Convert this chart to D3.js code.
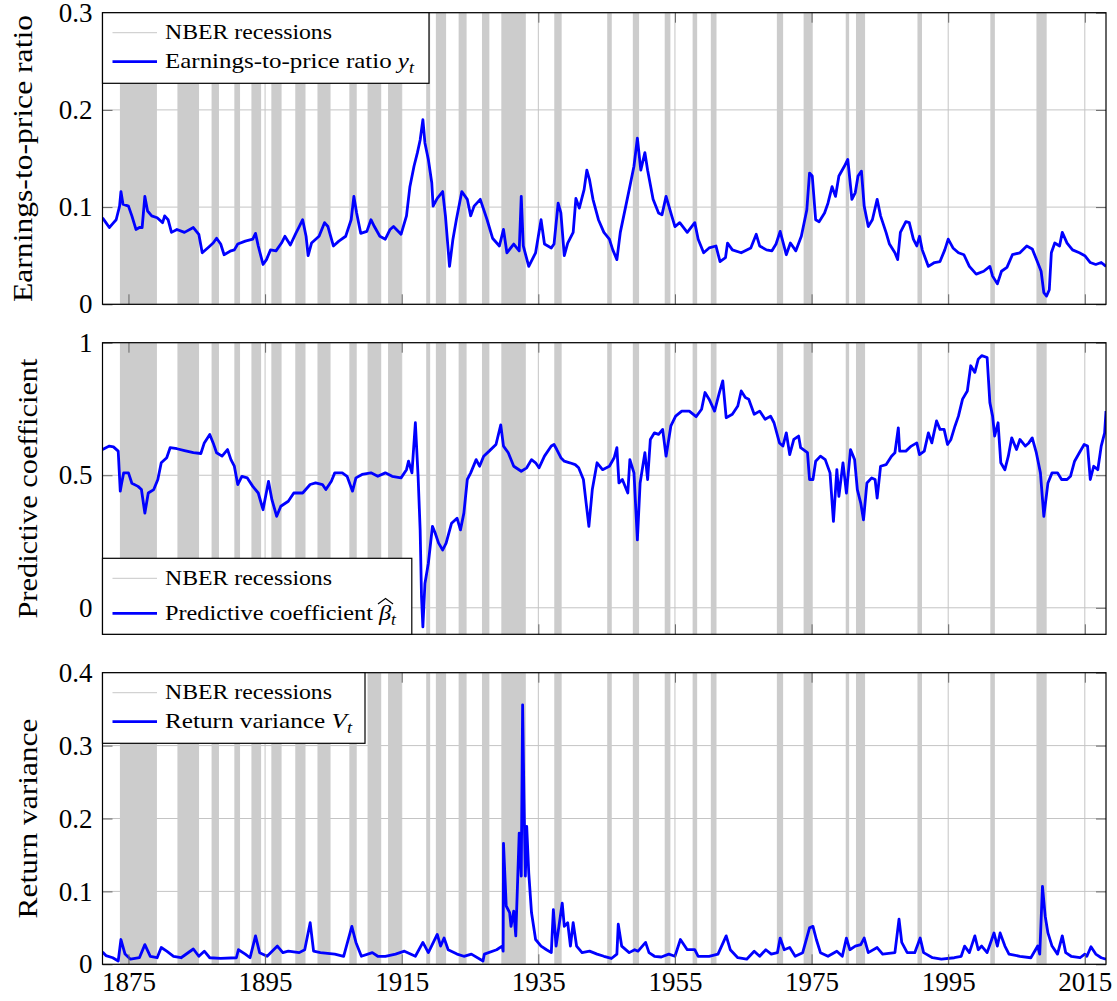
<!DOCTYPE html>
<html>
<head>
<meta charset="utf-8">
<script src="https://cdn.jsdelivr.net/npm/d3@7"></script>
</head>
<body style="margin:0">
<svg id="chart" width="1117" height="1001"></svg>
<script>
// NBER recession dates (peak, trough)
const recessionStart = ['1873-10','1882-03','1887-03','1890-07','1893-01','1895-12','1899-06','1902-09','1907-05','1910-01',
	'1913-01','1918-08','1920-01','1923-05','1926-10','1929-08','1937-05','1945-02','1948-11','1953-07','1957-08','1960-04',
	'1969-12','1973-11','1980-01','1981-07','1990-07','2001-03','2007-12']
const recessionEnd = ['1879-03','1885-05','1888-04','1891-05','1894-06','1897-06','1900-12','1904-08','1908-06','1912-01',
	'1914-12','1919-03','1921-07','1924-07','1927-11','1933-03','1938-06','1945-10','1949-10','1954-05','1958-04','1961-02',
	'1970-11','1975-03','1980-07','1982-11','1991-03','2001-11','2009-06']

const xDomain = [1871.2, 2018.1]
const xTicks = [1875, 1895, 1915, 1935, 1955, 1975, 1995, 2015]

// earnings-to-price ratio y_t  [year, value]
const epData = [[1871.2,0.089],[1871.7,0.084],[1872.2,0.079],[1872.7,0.083],[1873.2,0.087],[1873.7,0.101],[1873.9,0.116],
	[1874.2,0.103],[1875.0,0.101],[1875.5,0.091],[1876.1,0.077],[1876.6,0.079],[1877.0,0.079],[1877.4,0.111],[1877.8,0.096],
	[1878.4,0.091],[1879.2,0.089],[1880.0,0.084],[1880.3,0.091],[1880.8,0.087],[1881.3,0.074],[1882.1,0.077],[1883.2,0.074],
	[1884.5,0.079],[1885.3,0.072],[1885.8,0.053],[1886.6,0.058],[1887.4,0.063],[1887.9,0.068],[1888.5,0.062],[1889.0,0.051],
	[1890.0,0.055],[1890.5,0.056],[1891.0,0.062],[1892.1,0.065],[1893.2,0.067],[1893.6,0.073],[1894.0,0.060],[1894.7,0.041],
	[1895.2,0.046],[1895.8,0.056],[1896.6,0.055],[1897.4,0.063],[1897.9,0.070],[1898.7,0.061],[1899.5,0.073],[1900.0,0.080],
	[1900.5,0.087],[1901.0,0.070],[1901.3,0.050],[1901.8,0.063],[1902.9,0.070],[1903.7,0.084],[1904.2,0.080],[1905.0,0.060],
	[1905.8,0.065],[1906.8,0.070],[1907.6,0.087],[1908.0,0.111],[1908.4,0.094],[1909.0,0.073],[1909.9,0.075],[1910.5,0.087],
	[1911.0,0.080],[1911.8,0.070],[1912.6,0.067],[1913.3,0.077],[1913.8,0.080],[1914.9,0.072],[1915.7,0.091],[1916.2,0.121],
	[1916.8,0.142],[1917.3,0.156],[1917.7,0.169],[1918.1,0.190],[1918.4,0.166],[1918.9,0.149],[1919.4,0.125],[1919.6,0.101],
	[1920.2,0.109],[1921.0,0.116],[1921.4,0.091],[1922.0,0.039],[1922.5,0.067],[1923.0,0.087],[1923.8,0.116],[1924.6,0.108],
	[1925.1,0.091],[1925.6,0.101],[1926.5,0.108],[1927.5,0.087],[1928.3,0.068],[1929.3,0.060],[1929.9,0.077],[1930.4,0.053],
	[1931.4,0.062],[1932.2,0.055],[1932.5,0.111],[1932.8,0.060],[1933.6,0.039],[1934.6,0.053],[1935.4,0.087],[1935.9,0.062],
	[1936.9,0.058],[1937.3,0.062],[1937.9,0.104],[1938.3,0.094],[1938.8,0.050],[1939.3,0.063],[1940.1,0.074],[1940.5,0.109],
	[1941.0,0.099],[1941.7,0.118],[1942.1,0.138],[1942.5,0.128],[1943.0,0.108],[1943.8,0.087],[1944.6,0.074],[1945.4,0.067],
	[1945.9,0.056],[1946.5,0.046],[1947.0,0.074],[1947.8,0.101],[1948.3,0.118],[1949.0,0.142],[1949.5,0.171],[1950.0,0.138],
	[1950.6,0.156],[1951.0,0.138],[1951.8,0.108],[1952.6,0.094],[1953.1,0.092],[1953.7,0.111],[1954.4,0.094],[1955.0,0.080],
	[1955.7,0.084],[1956.8,0.074],[1957.9,0.084],[1958.4,0.067],[1959.2,0.053],[1960.0,0.058],[1961.0,0.060],[1961.6,0.044],
	[1962.4,0.048],[1962.7,0.063],[1963.4,0.056],[1964.7,0.053],[1966.1,0.058],[1966.9,0.072],[1967.4,0.060],[1968.4,0.056],
	[1969.2,0.055],[1969.8,0.062],[1970.4,0.075],[1971.3,0.051],[1971.9,0.063],[1972.7,0.055],[1973.5,0.070],[1974.3,0.097],
	[1974.7,0.135],[1975.1,0.132],[1975.6,0.087],[1976.1,0.085],[1976.9,0.094],[1977.4,0.104],[1978.0,0.121],[1978.5,0.111],
	[1979.0,0.132],[1979.8,0.142],[1980.3,0.149],[1980.9,0.108],[1981.4,0.115],[1981.8,0.132],[1982.3,0.137],[1982.7,0.101],
	[1983.3,0.080],[1983.9,0.087],[1984.6,0.108],[1985.1,0.091],[1985.9,0.074],[1986.4,0.062],[1987.2,0.053],[1987.6,0.046],
	[1988.0,0.074],[1988.8,0.085],[1989.3,0.084],[1989.9,0.067],[1990.4,0.060],[1990.8,0.070],[1991.2,0.056],[1992.1,0.039],
	[1993.0,0.043],[1993.8,0.044],[1994.5,0.056],[1995.0,0.067],[1995.7,0.058],[1996.5,0.053],[1997.3,0.051],[1998.1,0.039],
	[1999.1,0.031],[2000.2,0.034],[2001.1,0.039],[2001.5,0.029],[2002.2,0.021],[2002.8,0.034],[2003.6,0.038],[2004.4,0.051],
	[2005.5,0.053],[2006.5,0.060],[2007.3,0.057],[2008.1,0.043],[2008.6,0.034],[2009.0,0.012],[2009.4,0.0085],[2009.8,0.015],
	[2010.1,0.053],[2010.6,0.063],[2011.3,0.060],[2011.7,0.074],[2012.4,0.063],[2013.2,0.056],[2014.2,0.053],[2015.0,0.050],
	[2015.8,0.043],[2016.6,0.041],[2017.4,0.043],[2018.1,0.039]]

// predictive coefficient beta_t
const betaData = [[1871.2,0.597],[1871.7,0.604],[1872.2,0.61],[1872.8,0.607],[1873.5,0.591],[1873.8,0.44],[1874.0,0.47],
	[1874.3,0.509],[1875.0,0.509],[1875.5,0.47],[1876.4,0.458],[1876.9,0.446],[1877.4,0.357],[1877.9,0.433],[1878.7,0.446],
	[1879.3,0.484],[1879.8,0.547],[1880.6,0.566],[1881.1,0.604],[1882.1,0.60],[1883.2,0.593],[1884.5,0.585],[1885.6,0.582],
	[1886.1,0.622],[1886.9,0.654],[1887.4,0.622],[1887.9,0.585],[1888.7,0.572],[1889.5,0.597],[1890.0,0.559],[1890.5,0.534],
	[1891.0,0.465],[1891.6,0.496],[1892.4,0.49],[1893.2,0.458],[1894.0,0.433],[1894.7,0.37],[1895.5,0.477],[1896.0,0.408],
	[1896.7,0.345],[1897.3,0.383],[1898.4,0.402],[1899.2,0.433],[1900.5,0.433],[1901.6,0.465],[1902.4,0.471],[1903.4,0.465],
	[1903.9,0.446],[1904.7,0.477],[1905.2,0.509],[1906.3,0.509],[1907.0,0.496],[1907.8,0.44],[1908.3,0.49],[1909.2,0.503],
	[1910.5,0.509],[1911.5,0.496],[1912.6,0.509],[1913.6,0.496],[1914.9,0.49],[1915.7,0.521],[1916.0,0.553],[1916.5,0.509],
	[1917.0,0.698],[1917.4,0.496],[1917.7,0.294],[1917.9,0.042],[1918.1,-0.072],[1918.4,0.092],[1918.9,0.168],[1919.5,0.307],
	[1919.9,0.282],[1920.4,0.244],[1921.0,0.218],[1921.5,0.244],[1922.3,0.319],[1923.1,0.338],[1923.6,0.294],[1924.1,0.357],
	[1924.6,0.484],[1925.1,0.509],[1925.9,0.559],[1926.4,0.534],[1927.0,0.572],[1927.8,0.591],[1928.8,0.616],[1929.5,0.69],
	[1929.9,0.61],[1930.6,0.585],[1931.4,0.534],[1932.5,0.515],[1933.3,0.528],[1934.0,0.559],[1934.6,0.547],[1935.1,0.528],
	[1935.9,0.572],[1936.9,0.61],[1937.3,0.616],[1937.7,0.597],[1938.3,0.566],[1938.8,0.553],[1939.6,0.547],[1940.4,0.54],
	[1940.9,0.528],[1941.6,0.484],[1942.0,0.395],[1942.4,0.307],[1942.9,0.446],[1943.6,0.547],[1944.4,0.521],[1945.4,0.534],
	[1946.1,0.566],[1946.5,0.604],[1946.8,0.471],[1947.3,0.484],[1948.1,0.433],[1948.4,0.559],[1949.0,0.509],[1949.5,0.256],
	[1949.9,0.471],[1950.6,0.585],[1951.0,0.484],[1951.4,0.635],[1952.0,0.66],[1952.6,0.654],[1953.2,0.673],[1953.7,0.572],
	[1954.4,0.686],[1955.1,0.723],[1956.0,0.742],[1957.1,0.742],[1958.1,0.721],[1958.9,0.749],[1959.4,0.812],[1960.0,0.787],
	[1960.8,0.742],[1961.5,0.812],[1962.0,0.856],[1962.5,0.717],[1963.4,0.73],[1964.2,0.761],[1964.7,0.818],[1965.3,0.793],
	[1965.8,0.787],[1966.6,0.73],[1967.4,0.742],[1968.2,0.711],[1969.0,0.723],[1969.5,0.698],[1970.3,0.622],[1970.8,0.61],
	[1971.3,0.66],[1971.8,0.578],[1972.4,0.635],[1973.1,0.648],[1973.4,0.604],[1974.4,0.585],[1974.7,0.484],[1975.2,0.484],
	[1975.6,0.553],[1976.3,0.572],[1977.0,0.559],[1977.7,0.509],[1978.2,0.326],[1978.7,0.521],[1979.0,0.42],[1979.6,0.547],
	[1980.1,0.433],[1980.7,0.597],[1981.3,0.559],[1981.7,0.446],[1982.2,0.395],[1982.6,0.332],[1983.1,0.471],[1983.8,0.49],
	[1984.3,0.484],[1984.6,0.414],[1985.1,0.534],[1985.9,0.54],[1986.7,0.572],[1987.2,0.585],[1987.7,0.679],[1987.9,0.591],
	[1988.8,0.591],[1989.6,0.61],[1990.4,0.622],[1990.8,0.578],[1991.5,0.591],[1992.1,0.66],[1992.6,0.622],[1993.3,0.705],
	[1993.8,0.673],[1994.4,0.673],[1994.9,0.616],[1995.4,0.635],[1996.0,0.686],[1996.5,0.723],[1997.1,0.787],[1997.8,0.818],
	[1998.3,0.913],[1998.9,0.888],[1999.4,0.938],[1999.9,0.951],[2000.7,0.944],[2001.1,0.774],[2001.5,0.723],[2001.8,0.648],
	[2002.3,0.698],[2002.7,0.547],[2003.3,0.521],[2003.8,0.572],[2004.3,0.641],[2005.0,0.597],[2005.5,0.635],[2006.3,0.61],
	[2006.8,0.622],[2007.3,0.641],[2007.9,0.585],[2008.5,0.509],[2009.0,0.345],[2009.6,0.471],[2010.2,0.509],[2011.0,0.509],
	[2011.6,0.484],[2012.4,0.484],[2012.9,0.496],[2013.5,0.553],[2014.2,0.585],[2014.9,0.616],[2015.4,0.61],[2015.8,0.484],
	[2016.3,0.534],[2016.9,0.521],[2017.4,0.61],[2017.9,0.66],[2018.1,0.742]]

// return variance V_t
const varData = [[1871.2,0.017],[1871.7,0.012],[1872.7,0.009],[1873.5,0.0045],[1873.9,0.034],[1874.5,0.014],[1875.3,0.007],
	[1876.6,0.009],[1877.4,0.027],[1878.2,0.011],[1879.2,0.009],[1879.8,0.023],[1880.6,0.018],[1881.6,0.011],[1882.7,0.009],
	[1884.5,0.021],[1885.3,0.011],[1886.1,0.018],[1886.9,0.009],[1888.5,0.008],[1890.8,0.009],[1891.1,0.02],[1892.1,0.014],
	[1892.8,0.009],[1893.6,0.039],[1894.2,0.016],[1895.3,0.011],[1896.8,0.025],[1897.6,0.016],[1898.4,0.018],[1900.0,0.016],
	[1900.8,0.020],[1901.6,0.057],[1902.1,0.018],[1903.1,0.016],[1905.2,0.014],[1906.5,0.011],[1907.7,0.052],[1908.3,0.030],
	[1909.1,0.011],[1910.7,0.016],[1911.5,0.011],[1912.6,0.011],[1914.1,0.014],[1915.4,0.018],[1917.0,0.011],[1918.1,0.030],
	[1918.9,0.016],[1920.2,0.041],[1920.7,0.025],[1921.2,0.036],[1921.8,0.020],[1923.1,0.014],[1924.1,0.011],[1925.2,0.014],
	[1926.9,0.0045],[1927.1,0.014],[1928.9,0.020],[1929.7,0.025],[1929.85,0.018],[1929.9,0.166],[1930.3,0.08],[1930.8,0.071],
	[1931.0,0.052],[1931.4,0.073],[1931.7,0.039],[1932.0,0.123],[1932.2,0.18],[1932.5,0.121],[1932.7,0.356],[1932.9,0.226],
	[1933.1,0.121],[1933.3,0.189],[1933.6,0.125],[1934.0,0.071],[1934.6,0.034],[1935.4,0.025],[1936.2,0.020],[1936.9,0.016],
	[1937.2,0.075],[1937.6,0.025],[1938.5,0.084],[1938.8,0.052],[1939.3,0.057],[1939.7,0.025],[1940.1,0.057],[1940.6,0.025],
	[1941.4,0.016],[1942.5,0.018],[1943.6,0.014],[1944.6,0.011],[1945.7,0.008],[1946.5,0.014],[1946.7,0.055],[1947.2,0.025],
	[1948.3,0.016],[1949.1,0.020],[1949.6,0.018],[1950.7,0.030],[1951.2,0.016],[1952.0,0.011],[1953.0,0.010],[1954.1,0.014],
	[1955.0,0.011],[1955.8,0.034],[1956.8,0.020],[1957.9,0.020],[1958.4,0.011],[1960.0,0.011],[1961.3,0.014],[1962.5,0.039],
	[1963.1,0.020],[1964.2,0.009],[1965.5,0.007],[1966.6,0.018],[1967.4,0.011],[1968.3,0.020],[1969.1,0.014],[1970.0,0.016],
	[1970.4,0.036],[1971.0,0.020],[1971.8,0.023],[1972.6,0.011],[1973.7,0.016],[1974.7,0.050],[1975.2,0.052],[1975.7,0.034],
	[1976.3,0.016],[1977.4,0.011],[1978.7,0.018],[1979.5,0.011],[1980.1,0.036],[1980.6,0.020],[1981.4,0.025],[1982.2,0.027],
	[1982.7,0.036],[1983.3,0.016],[1984.6,0.023],[1985.4,0.014],[1987.2,0.016],[1987.8,0.062],[1988.2,0.030],[1989.0,0.016],
	[1990.1,0.016],[1990.9,0.036],[1991.4,0.016],[1992.7,0.009],[1994.0,0.007],[1995.9,0.009],[1996.9,0.011],[1997.4,0.025],
	[1998.1,0.016],[1998.9,0.039],[1999.4,0.020],[1999.9,0.025],[2000.7,0.016],[2001.7,0.043],[2002.2,0.025],[2002.6,0.043],
	[2003.3,0.025],[2003.9,0.014],[2005.5,0.011],[2007.1,0.009],[2008.1,0.025],[2008.4,0.014],[2008.8,0.107],[2009.2,0.066],
	[2009.6,0.043],[2010.2,0.025],[2011.0,0.014],[2011.7,0.039],[2012.2,0.016],[2013.0,0.011],[2014.3,0.009],[2015.0,0.014],
	[2015.3,0.011],[2015.9,0.024],[2016.6,0.014],[2017.4,0.009],[2018.1,0.007]]

const epTicks = [0, 0.1, 0.2, 0.3]
const betaTicks = [0, 0.5, 1]
const varTicks = [0, 0.1, 0.2, 0.3, 0.4]

const toYear = s => +s.slice(0, 4) + (+s.slice(5, 7) - 1) / 12
const recessions = recessionStart.map((s, i) => ({start: toYear(s), end: toYear(recessionEnd[i])}))

const plotLeft = 102.5, plotRight = 1106
const panelH = 291.6
const tickLen = 10
const BLUE = '#0000ff'
const FONT = 'Liberation Serif'

const panels = [
	{id: 'ep', data: epData, yDomain: [0, 0.3], yTicks: epTicks, top: 12.7, title: 'Earnings-to-price ratio', titleLen: 287, titleX: 32,
		legend: {at: 'top', w: 326.5, h: 70.6, rows: [26.6, 55.6], len: 249,
			parts: [{t: 'Earnings-to-price ratio '}, {t: 'y', i: true}, {t: 't', i: true, sub: true}]}},
	{id: 'beta', data: betaData, yDomain: [-0.1, 1], yTicks: betaTicks, top: 342.7, title: 'Predictive coefficient', titleLen: 260, titleX: 37,
		legend: {at: 'bottom', w: 309.3, h: 76, rows: [26.7, 61.7], len: 231, hat: true,
			parts: [{t: 'Predictive coefficient '}, {t: 'β', i: true}, {t: 't', i: true, sub: true}]}},
	{id: 'var', data: varData, yDomain: [0, 0.4], yTicks: varTicks, top: 672.7, title: 'Return variance', titleLen: 200, titleX: 37, xLabels: true,
		legend: {at: 'top', w: 262.5, h: 70.6, rows: [26.6, 55.6], len: 187,
			parts: [{t: 'Return variance '}, {t: 'V', i: true}, {t: 't', i: true, sub: true}]}}
]

const svg = d3.select('#chart')

const x = d3.scaleLinear().domain(xDomain).range([plotLeft, plotRight])

const setFont = (sel, size) => sel.attr('font-family', FONT).style('font-family', FONT).attr('font-size', size).style('font-size', size + 'px')

panels.forEach(p => {
	const top = p.top, bottom = p.top + panelH
	const y = d3.scaleLinear().domain(p.yDomain).range([bottom, top])
	const g = svg.append('g').attr('id', p.id)

	g.append('clipPath').attr('id', 'clip-' + p.id)
		.append('rect').attr('x', plotLeft).attr('y', top).attr('width', plotRight - plotLeft).attr('height', panelH)

	// grid
	g.append('g').selectAll('line.h').data(p.yTicks).enter().append('line')
		.attr('x1', plotLeft).attr('x2', plotRight).attr('y1', d => y(d)).attr('y2', d => y(d))
		.attr('stroke', '#c4c4c4').attr('stroke-width', 1)
	g.append('g').selectAll('line.v').data(xTicks).enter().append('line')
		.attr('x1', d => x(d)).attr('x2', d => x(d)).attr('y1', top).attr('y2', bottom)
		.attr('stroke', '#c4c4c4').attr('stroke-width', 1)

	// recession bands
	g.append('g').selectAll('rect').data(recessions).enter().append('rect')
		.attr('x', d => x(d.start)).attr('width', d => x(d.end) - x(d.start))
		.attr('y', top).attr('height', panelH)
		.attr('fill', '#cccccc')

	// series
	const line = d3.line().x(d => x(d[0])).y(d => y(d[1]))
	g.append('path').datum(p.data)
		.attr('d', line)
		.attr('clip-path', `url(#clip-${p.id})`)
		.attr('fill', 'none').attr('stroke', BLUE).attr('stroke-width', 2.8).attr('stroke-linejoin', 'round')

	// ticks (inward) + labels
	const styleAxis = sel => {
		setFont(sel, 27)
		sel.select('.domain').remove()
		sel.selectAll('.tick line').attr('stroke', '#666').attr('stroke-width', 1)
		setFont(sel.selectAll('text'), 27).attr('fill', '#000')
	}
	g.append('g').attr('transform', `translate(${plotLeft},0)`)
		.call(d3.axisLeft(y).tickValues(p.yTicks).tickSize(-tickLen).tickPadding(10).tickFormat(d => String(d)))
		.call(styleAxis)
	g.append('g').attr('transform', `translate(${plotRight},0)`)
		.call(d3.axisRight(y).tickValues(p.yTicks).tickSize(-tickLen).tickFormat(''))
		.call(styleAxis)
	g.append('g').attr('transform', `translate(0,${top})`)
		.call(d3.axisTop(x).tickValues(xTicks).tickSize(-tickLen).tickFormat(''))
		.call(styleAxis)
	g.append('g').attr('transform', `translate(0,${bottom})`)
		.call(d3.axisBottom(x).tickValues(xTicks).tickSize(-tickLen).tickPadding(8).tickFormat(p.xLabels ? d3.format('d') : ''))
		.call(styleAxis)

	// frame
	g.append('rect').attr('x', plotLeft).attr('y', top).attr('width', plotRight - plotLeft).attr('height', panelH)
		.attr('fill', 'none').attr('stroke', '#000').attr('stroke-width', 1.2)

	// y title
	g.append('text')
		.attr('transform', `translate(${p.titleX},${(top + bottom) / 2}) rotate(-90)`)
		.attr('text-anchor', 'middle')
		.call(setFont, 28)
		.attr('textLength', p.titleLen).attr('lengthAdjust', 'spacingAndGlyphs')
		.text(p.title)

	// legend
	const L = p.legend
	const ly = L.at === 'top' ? top : bottom - L.h
	const lg = g.append('g').attr('transform', `translate(${plotLeft},${ly})`)
	lg.append('rect').attr('width', L.w).attr('height', L.h).attr('fill', '#fff').attr('stroke', '#000').attr('stroke-width', 1.2)
	lg.append('line').attr('x1', 10).attr('x2', 54.5).attr('y1', L.rows[0] - 6.6).attr('y2', L.rows[0] - 6.6)
		.attr('stroke', '#d2d2d2').attr('stroke-width', 1.3)
	lg.append('text').attr('x', 62.5).attr('y', L.rows[0])
		.call(setFont, 22)
		.attr('textLength', 167).attr('lengthAdjust', 'spacingAndGlyphs')
		.text('NBER recessions')
	lg.append('line').attr('x1', 10).attr('x2', 54.5).attr('y1', L.rows[1] - 6.6).attr('y2', L.rows[1] - 6.6)
		.attr('stroke', BLUE).attr('stroke-width', 2.8)
	const t = lg.append('text').attr('x', 62.5).attr('y', L.rows[1])
		.call(setFont, 22)
		.attr('textLength', L.len).attr('lengthAdjust', 'spacingAndGlyphs')
	L.parts.forEach(pt => {
		const ts = t.append('tspan').text(pt.t)
		if (pt.i) ts.attr('font-style', 'italic')
		if (pt.sub) ts.attr('font-size', 16).style('font-size', '16px').attr('dy', 5)
	})
	if (L.hat) {
		const idx = L.parts[0].t.length
		const ext = t.node().getExtentOfChar(idx)
		const b = L.rows[1]
		const l = ext.x - 1, r = ext.x + ext.width + 2
		lg.append('path')
			.attr('d', `M${l},${b - 16} L${(l + r) / 2},${b - 21.5} L${r},${b - 16}`)
			.attr('fill', 'none').attr('stroke', '#000').attr('stroke-width', 1.1)
	}
})
</script>
</body>
</html>
